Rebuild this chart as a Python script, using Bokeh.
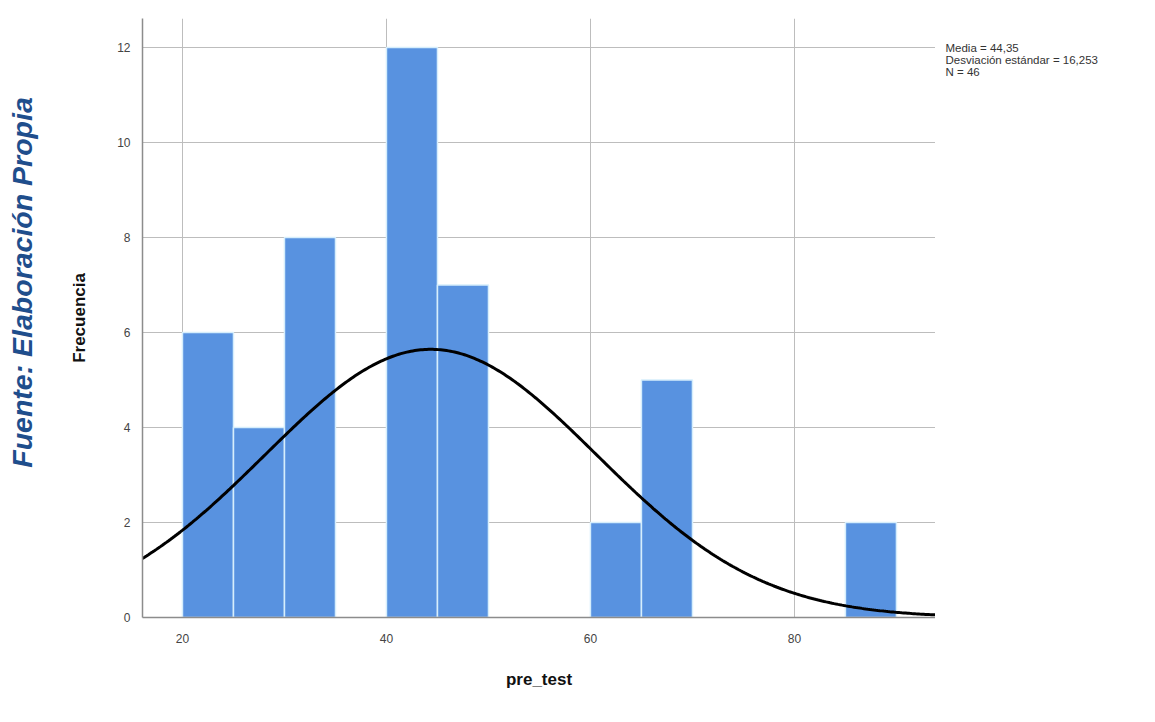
import numpy as np
from bokeh.plotting import figure
from bokeh.layouts import row
from bokeh.models import FixedTicker, Range1d
from bokeh.core.properties import value
from bokeh.embed import file_html
from bokeh.resources import INLINE

# Data
bin_edges = [20, 25, 30, 35, 40, 45, 50, 55, 60, 65, 70, 75, 80, 85, 90]
counts = [6, 4, 8, 0, 12, 7, 0, 0, 2, 5, 0, 0, 0, 2]
mean = 44.35
std_dev = 16.253
n_obs = 46
x_ticks = [20, 40, 60, 80]
y_ticks = [0, 2, 4, 6, 8, 10, 12]
stats_lines = ["Media = 44,35", "Desviación estándar = 16,253", "N = 46"]
source_note = "Fuente: Elaboración Propia"

H = 722
LEFT_W = 45
RIGHT_W = 220
MAIN_W = 1155 - LEFT_W - RIGHT_W
FRAME_TOP = 18
FRAME_BOTTOM = 617


def blank_fig(w):
    # the row aligns this figure's frame with the main frame,
    # so its y range is expressed in page pixels of that frame
    f = figure(width=w, height=H, output_backend="svg", toolbar_location=None,
               title_location=None,
               x_range=Range1d(0, w), y_range=Range1d(FRAME_BOTTOM, FRAME_TOP),
               min_border=0, min_border_left=0, min_border_right=0,
               min_border_top=FRAME_TOP, min_border_bottom=H - FRAME_BOTTOM)
    f.axis.visible = False
    f.grid.visible = False
    f.outline_line_color = None
    return f


# Left strip: source note
left = blank_fig(LEFT_W)
left.text(x=[21], y=[282], text=[source_note], angle=np.pi / 2,
          text_font=value("Liberation Sans"), text_font_size="28.5px",
          text_font_style="bold italic", text_color="#1f4e8c",
          text_align="center", text_baseline="middle")

# Main histogram
p = figure(width=MAIN_W, height=H, output_backend="svg", toolbar_location=None,
           x_range=Range1d(16.08, 93.83), y_range=Range1d(0, 12.61),
           min_border_left=142 - LEFT_W, min_border_right=0, min_border_top=FRAME_TOP,
           min_border_bottom=H - FRAME_BOTTOM)
p.outline_line_color = None

lefts = [bin_edges[i] for i in range(len(counts)) if counts[i] > 0]
rights = [bin_edges[i + 1] for i in range(len(counts)) if counts[i] > 0]
tops = [c for c in counts if c > 0]
p.quad(left=lefts, right=rights, bottom=0, top=tops, fill_color="#5892E0",
       line_color="#d6eefc", line_width=1.5)

bw = bin_edges[1] - bin_edges[0]
xs = np.linspace(p.x_range.start, p.x_range.end, 400)
ys = n_obs * bw * np.exp(-0.5 * ((xs - mean) / std_dev) ** 2) / (std_dev * np.sqrt(2 * np.pi))
p.line(xs, ys, line_color="black", line_width=3)

p.xaxis.ticker = FixedTicker(ticks=x_ticks)
p.yaxis.ticker = FixedTicker(ticks=y_ticks)
for ax in (p.xaxis, p.yaxis):
    ax.major_tick_line_color = None
    ax.minor_tick_line_color = None
    ax.axis_line_color = "#8c8c8c"
    ax.axis_line_width = 1.5
    ax.major_label_text_font = "Liberation Sans"
    ax.major_label_text_font_size = "12px"
    ax.major_label_text_color = "#444444"
    ax.axis_label_text_font = "Liberation Sans"
    ax.axis_label_text_font_size = "17px"
    ax.axis_label_text_font_style = "bold"
    ax.axis_label_text_color = "#111111"
p.xaxis.axis_label = "pre_test"
p.yaxis.axis_label = "Frecuencia"
p.xaxis.major_label_standoff = 10
p.yaxis.major_label_standoff = 6
p.xaxis.axis_label_standoff = 24
p.yaxis.axis_label_standoff = 25

p.xgrid.ticker = FixedTicker(ticks=x_ticks)
p.ygrid.ticker = FixedTicker(ticks=y_ticks)
p.grid.grid_line_color = "#bdbdbd"
p.grid.grid_line_width = 1

# Right strip: statistics
right = blank_fig(RIGHT_W)
right.text(x=[10] * len(stats_lines), y=[47 + i * 12 for i in range(len(stats_lines))],
           text=stats_lines, text_font=value("Liberation Sans"), text_font_size="11.5px",
           text_color="#333333", text_baseline="middle", text_align="left")

layout = row(left, p, right, spacing=0)
open("out.html", "w").write(file_html(layout, INLINE))
